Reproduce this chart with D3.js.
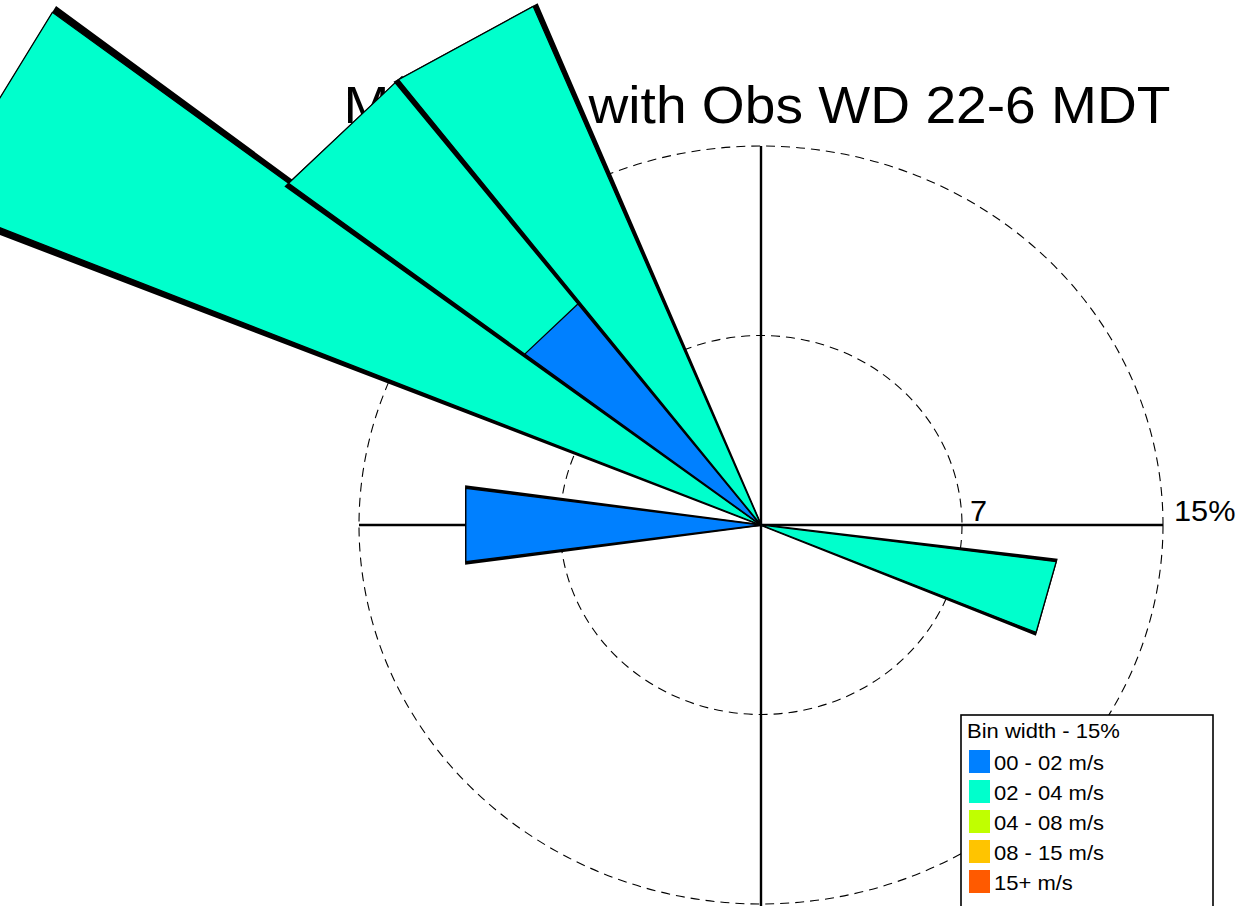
<!DOCTYPE html>
<html><head><meta charset="utf-8">
<script src="https://cdn.jsdelivr.net/npm/d3@7"></script>
<style>html,body{margin:0;padding:0;background:#fff;overflow:hidden}</style>
</head><body><svg id="chart" width="1241" height="906"></svg>
<script>
// ---------------- data ----------------
const titleText = "MM5 WD with Obs WD 22-6 MDT";
const directions = [0,15,30,45,60,75,90,105,120,135,150,165,180,195,210,225,240,255,270,285,300,315,330,345];
const speedLabels = ["00 - 02 m/s","02 - 04 m/s","04 - 08 m/s","08 - 15 m/s","15+ m/s"];
const speedColors = ["#0080FF","#00FFCC","#C0FF00","#FFC400","#FF5A00"];
// percent of observations per direction bin, one array per speed class
const s00_02 = [0,0,0,0,0,0,0,0,0,0,0,0,0,0,0,0,0,0,11.11,0,0,11.11,0,0];
const s02_04 = [0,0,0,0,0,0,0,11.11,0,0,0,0,0,0,0,0,0,0,0,0,33.33,11.11,22.22,0];
const s04_08 = [0,0,0,0,0,0,0,0,0,0,0,0,0,0,0,0,0,0,0,0,0,0,0,0];
const s08_15 = [0,0,0,0,0,0,0,0,0,0,0,0,0,0,0,0,0,0,0,0,0,0,0,0];
const s15p   = [0,0,0,0,0,0,0,0,0,0,0,0,0,0,0,0,0,0,0,0,0,0,0,0];
const binWidthDeg = 15;
const ringValues = [7.5, 15];
const ringLabels = ["7", "15%"];
const legendTitle = "Bin width - 15%";

// ---------------- layout ----------------
const series = [s00_02, s02_04, s04_08, s08_15, s15p];
const svg = d3.select("#chart");
const cx = 761, cy = 525;
const maxR = 15;
const rx = d3.scaleLinear().domain([0, maxR]).range([0, 402]);
const ry = d3.scaleLinear().domain([0, maxR]).range([0, 379]);
const rad = d => d * Math.PI / 180;
const pt = (r, b) => [cx + rx(r) * Math.sin(rad(b)), cy - ry(r) * Math.cos(rad(b))];
const FONT = "'Liberation Sans', Arial, Helvetica, sans-serif";

function stext(g, x, y, txt, size, anchor, sx) {
  return g.append("text")
    .attr("transform", `translate(${x},${y}) scale(${sx || 1.06},1)`)
    .attr("font-family", FONT).attr("font-size", size)
    .attr("text-anchor", anchor || "start").attr("fill", "#000").text(txt);
}

// rings
const gGrid = svg.append("g");
ringValues.forEach(v => {
  gGrid.append("ellipse").attr("cx", cx).attr("cy", cy)
    .attr("rx", rx(v)).attr("ry", ry(v))
    .attr("fill", "none").attr("stroke", "#000").attr("stroke-width", 1.1)
    .attr("stroke-dasharray", "9,6");
});
// axes
gGrid.append("line").attr("x1", cx - rx(maxR)).attr("x2", cx + rx(maxR))
  .attr("y1", cy).attr("y2", cy).attr("stroke", "#000").attr("stroke-width", 2.4);
gGrid.append("line").attr("x1", cx).attr("x2", cx)
  .attr("y1", cy - ry(maxR)).attr("y2", cy + ry(maxR) + 10).attr("stroke", "#000").attr("stroke-width", 2.4);
// ring labels
ringValues.forEach((v, i) => {
  stext(gGrid, cx + rx(v) + (i === 0 ? 8 : 11), cy - 4, ringLabels[i], 29, "start");
});
// title
stext(svg, 757, 123, titleText, 52, "middle");

// wedges
const gW = svg.append("g");
const half = binWidthDeg / 2;
const shadowDeg = 0.42;
directions.forEach((b, di) => {
  const vals = series.map(s => s[di]);
  const cum = d3.cumsum(vals);
  const total = cum[cum.length - 1];
  if (total <= 0) return;
  const sh = [[cx, cy], pt(total, b - half - shadowDeg), pt(total, b + half + shadowDeg)];
  gW.append("polygon").attr("points", sh.map(p => p.join(",")).join(" "))
    .attr("fill", "#000").attr("stroke", "#000").attr("stroke-width", 2).attr("stroke-linejoin", "miter");
  for (let k = series.length - 1; k >= 0; k--) {
    if (vals[k] <= 0) continue;
    const r = cum[k];
    const poly = [[cx, cy], pt(r, b - half), pt(r, b + half)];
    gW.append("polygon").attr("points", poly.map(p => p.join(",")).join(" "))
      .attr("fill", speedColors[k]).attr("stroke", "#000").attr("stroke-width", 1.3)
      .attr("stroke-linejoin", "miter");
  }
});

// legend
const gL = svg.append("g");
gL.append("rect").attr("x", 961).attr("y", 715).attr("width", 252).attr("height", 210)
  .attr("fill", "#fff").attr("stroke", "#000").attr("stroke-width", 1.6);
stext(gL, 967, 738, legendTitle, 20, "start", 1.1);
speedLabels.forEach((lab, i) => {
  gL.append("rect").attr("x", 969).attr("y", 750 + 30 * i).attr("width", 21).attr("height", 23)
    .attr("fill", speedColors[i]);
  stext(gL, 994, 770 + 30 * i, lab, 20, "start", 1.1);
});
</script></body></html>
